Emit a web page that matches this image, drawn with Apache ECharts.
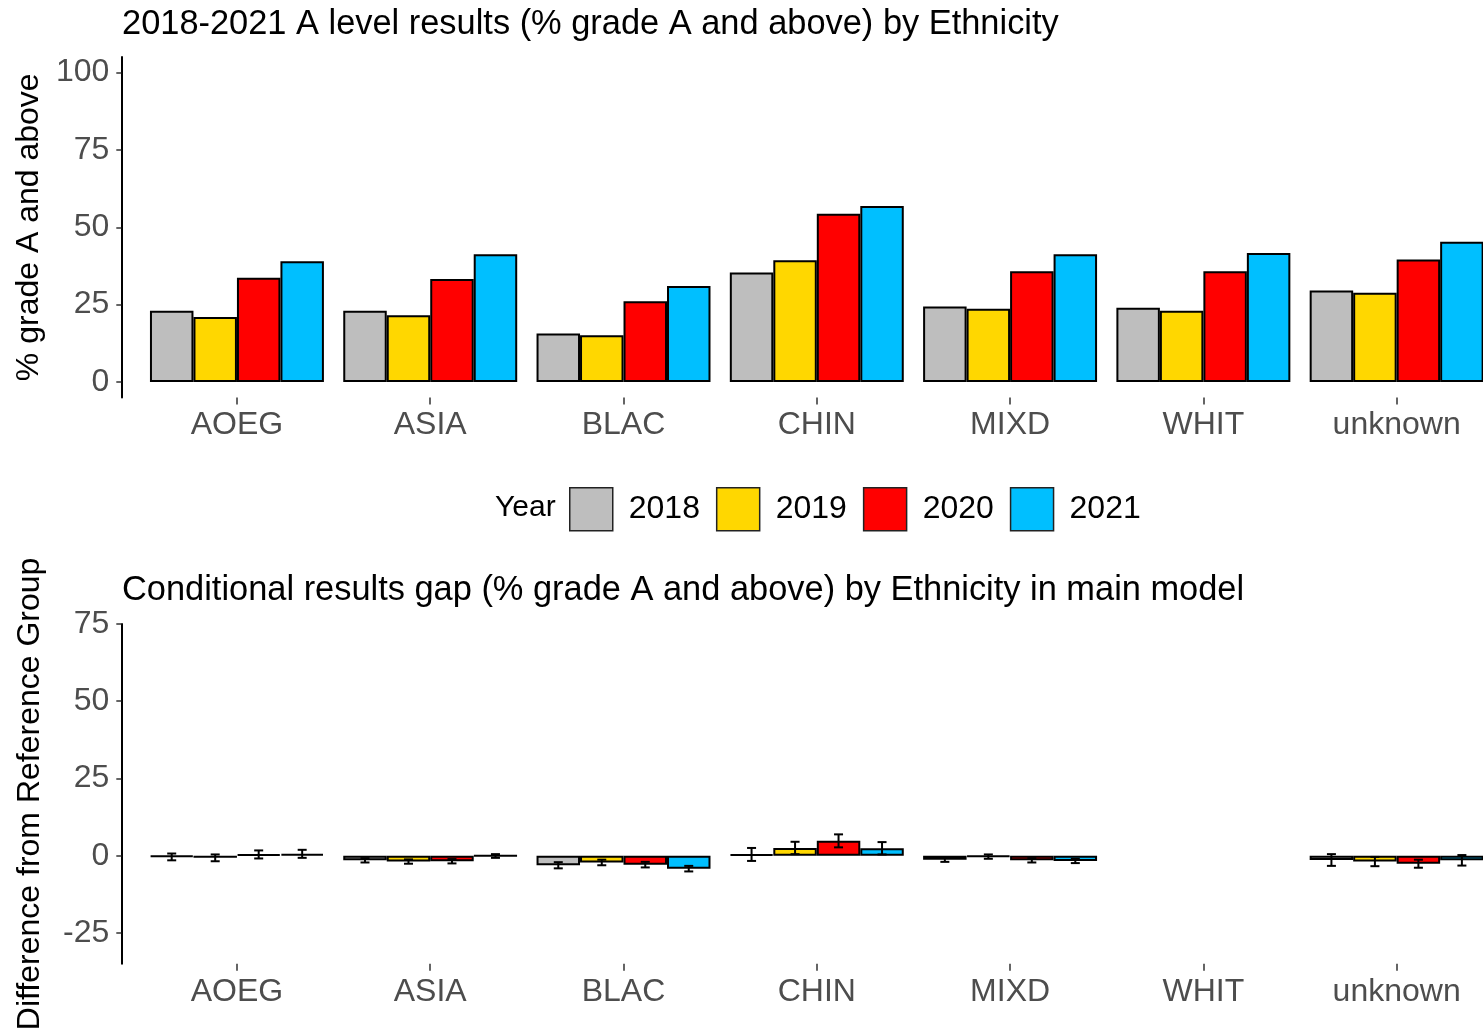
<!DOCTYPE html>
<html>
<head>
<meta charset="utf-8">
<script src="https://cdn.jsdelivr.net/npm/echarts@6/dist/echarts.min.js"></script>
<style>
html,body{margin:0;padding:0;background:#fff;overflow:hidden;width:1483px;height:1029px;}
#chart{width:1520px;height:1029px;}
</style>
</head>
<body>
<div id="chart"></div>
<script>
const categories = ['AOEG','ASIA','BLAC','CHIN','MIXD','WHIT','unknown'];
const years = ['2018','2019','2020','2021'];
const colors = ['#BEBEBE','#FFD700','#FF0000','#00BFFF'];

// Top panel: % grade A and above
const res2018 = [23.0, 23.0, 15.7, 35.4, 24.4, 24.0, 29.6];
const res2019 = [21.0, 21.6, 15.1, 39.3, 23.7, 23.0, 28.8];
const res2020 = [33.7, 33.3, 26.1, 54.4, 35.8, 35.8, 39.6];
const res2021 = [39.0, 41.3, 31.0, 56.9, 41.3, 41.7, 45.3];

// Bottom panel: conditional gap and error half-widths
const gap2018 = [-0.4, -1.5, -3.1, 0.4, -1.3, null, -1.4];
const gap2019 = [-0.7, -1.9, -2.2, 2.5, -0.3, null, -1.9];
const gap2020 = [0.4, -1.8, -2.9, 4.8, -1.5, null, -2.6];
const gap2021 = [0.6, -0.1, -4.2, 2.4, -1.7, null, -1.5];
const err2018 = [1.1, 0.7, 1.0, 2.1, 0.7, null, 1.9];
const err2019 = [1.1, 0.7, 0.9, 2.0, 0.7, null, 1.5];
const err2020 = [1.3, 0.7, 0.9, 2.1, 0.7, null, 1.3];
const err2021 = [1.3, 0.6, 0.9, 2.0, 0.7, null, 1.7];

const topTicks = [0, 25, 50, 75, 100];
const bottomTicks = [-25, 0, 25, 50, 75];

const resAll = [res2018, res2019, res2020, res2021];
const gapAll = [gap2018, gap2019, gap2020, gap2021];
const errAll = [err2018, err2019, err2020, err2021];

const FONT = 'Liberation Sans, Arial, Helvetica, sans-serif';

const errData = [];
gapAll.forEach((g, s) => {
  g.forEach((v, i) => {
    if (v !== null) errData.push([i, v - errAll[s][i], v + errAll[s][i], s]);
  });
});

function renderErr(params, api) {
  const cat = api.value(0), lo = api.value(1), hi = api.value(2), s = api.value(3);
  const band = api.size([1, 0])[0];
  const bw = band * 0.9 / 4;
  const cx = api.coord([cat, 0])[0] + (s - 1.5) * bw;
  const yLo = api.coord([cat, lo])[1];
  const yHi = api.coord([cat, hi])[1];
  const half = 4.5;
  const st = {stroke: '#000', lineWidth: 2};
  return {
    type: 'group',
    children: [
      {type: 'line', shape: {x1: cx, y1: yLo, x2: cx, y2: yHi}, style: st},
      {type: 'line', shape: {x1: cx - half, y1: yLo, x2: cx + half, y2: yLo}, style: st},
      {type: 'line', shape: {x1: cx - half, y1: yHi, x2: cx + half, y2: yHi}, style: st}
    ]
  };
}

const gridLeft = 140.3, gridWidth = 1353;

function xAxis(gi) {
  return {
    type: 'category', gridIndex: gi, data: categories,
    axisLine: {show: false, onZero: false},
    axisTick: {show: true, alignWithLabel: true, length: 7, lineStyle: {color: '#333', width: 1.5}},
    axisLabel: {color: '#4D4D4D', fontSize: 32, fontFamily: FONT, margin: 12},
    splitLine: {show: false}
  };
}
function yAxis(gi, min, max, ticks, name) {
  return {
    type: 'value', gridIndex: gi, min: min, max: max, offset: 19,
    name: name, nameLocation: 'middle', nameGap: 75,
    nameTextStyle: {color: '#000', fontSize: 32, fontFamily: FONT},
    axisLine: {show: true, lineStyle: {color: '#000', width: 2}},
    axisTick: {show: true, length: 5, customValues: ticks, lineStyle: {color: '#333', width: 1.5}},
    axisLabel: {color: '#4D4D4D', fontSize: 32, fontFamily: FONT, margin: 12, customValues: ticks},
    splitLine: {show: false}
  };
}

const series = [];
years.forEach((y, s) => {
  series.push({
    name: y, type: 'bar', xAxisIndex: 0, yAxisIndex: 0, data: resAll[s],
    barGap: '0%', barCategoryGap: '10%',
    itemStyle: {color: colors[s], borderColor: '#000', borderWidth: 2},
    emphasis: {disabled: true}
  });
});
years.forEach((y, s) => {
  series.push({
    name: y, type: 'bar', xAxisIndex: 1, yAxisIndex: 1, data: gapAll[s],
    barGap: '0%', barCategoryGap: '10%',
    itemStyle: {color: colors[s], borderColor: '#000', borderWidth: 2},
    emphasis: {disabled: true}
  });
});
series.push({
  name: 'err', type: 'custom', xAxisIndex: 1, yAxisIndex: 1, data: errData,
  renderItem: renderErr, encode: {x: 0, y: [1, 2]}, z: 5
});

const chart = echarts.init(document.getElementById('chart'), null, {renderer: 'canvas'});
chart.setOption({
  animation: false,
  backgroundColor: '#fff',
  textStyle: {fontFamily: FONT},
  title: [
    {text: '2018-2021 A level results (% grade A and above) by Ethnicity', left: 122, top: 8, padding: 0,
     textStyle: {fontSize: 34.4, fontWeight: 'normal', color: '#000', fontFamily: FONT}},
    {text: 'Conditional results gap (% grade A and above) by Ethnicity in main model', left: 122, top: 574, padding: 0,
     textStyle: {fontSize: 34.4, fontWeight: 'normal', color: '#000', fontFamily: FONT}}
  ],
  legend: {
    data: years, left: 569, top: 487, padding: 0,
    icon: 'rect', itemWidth: 43, itemHeight: 43, itemGap: 16,
    itemStyle: {borderColor: '#222', borderWidth: 1.5},
    textStyle: {fontSize: 32, color: '#000', fontFamily: FONT, padding: [0, 0, 0, 11]},
    selectedMode: false
  },
  graphic: [
    {type: 'text', left: 495, top: 493, style: {text: 'Year', fontSize: 30, fill: '#000', fontFamily: FONT}}
  ],
  grid: [
    {left: gridLeft, width: gridWidth, top: 57, height: 340.5, outerBoundsMode: 'none', containLabel: false},
    {left: gridLeft, width: gridWidth, top: 624, height: 339.8, outerBoundsMode: 'none', containLabel: false}
  ],
  xAxis: [xAxis(0), xAxis(1)],
  yAxis: [
    yAxis(0, -5, 105, topTicks, '% grade A and above'),
    yAxis(1, -35, 75, bottomTicks, 'Difference from Reference Group')
  ],
  series: series
});
</script>
</body>
</html>
